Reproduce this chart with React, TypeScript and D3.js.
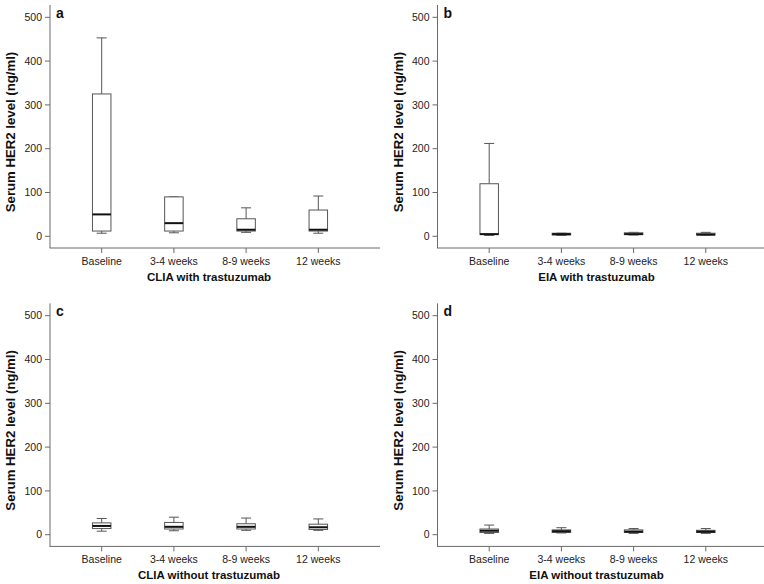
import React from "react";
import * as d3 from "d3";

const categories = ["Baseline", "3-4 weeks", "8-9 weeks", "12 weeks"];
const yTicks = [0, 100, 200, 300, 400, 500];

// five-number summaries per category: [min, q1, median, q3, max]
const cliaWith = [
  [7, 12, 50, 325, 453],
  [8, 12, 30, 90, 90],
  [9, 12, 15, 40, 65],
  [7, 12, 15, 60, 92],
];
const eiaWith = [
  [2, 4, 5, 120, 212],
  [2, 3, 5, 7, 7],
  [3, 4, 5, 8, 9],
  [3, 3, 4, 7, 9],
];
const cliaWithout = [
  [8, 14, 20, 27, 37],
  [9, 13, 18, 28, 40],
  [10, 13, 18, 25, 38],
  [10, 12, 17, 24, 36],
];
const eiaWithout = [
  [3, 5, 9, 13, 22],
  [4, 5, 8, 11, 16],
  [3, 5, 7, 11, 14],
  [3, 5, 7, 10, 14],
];

const panelLetters = ["a", "b", "c", "d"];
const panelTitles = [
  "CLIA with trastuzumab",
  "EIA with trastuzumab",
  "CLIA without trastuzumab",
  "EIA without trastuzumab",
];
const panelData = [cliaWith, eiaWith, cliaWithout, eiaWithout];
const yTitle = "Serum HER2 level (ng/ml)";

const FONT = "'Liberation Sans', Arial, sans-serif";
const AXIS = "#6a6a6a";
const BOX = "#555";

function Panel({ idx }: { idx: number }) {
  const ox = (idx % 2) * 387.5;
  const oy = Math.floor(idx / 2) * 298.4;
  const axisX = 50;
  const xAxisY = 248;
  const y = d3.scaleLinear().domain([0, 500]).range([236.3, 17.3]);
  const x = d3.scalePoint<string>().domain(categories).range([101.7, 318.3]);
  const data = panelData[idx];
  const bw = 18.5;
  const cw = 10;
  return (
    <g transform={`translate(${ox},${oy})`}>
      {/* axes */}
      <line x1={axisX} x2={axisX} y1={5} y2={xAxisY} stroke={AXIS} strokeWidth={1} />
      <line x1={axisX - 0.5} x2={380} y1={xAxisY} y2={xAxisY} stroke={AXIS} strokeWidth={1} />
      {yTicks.map((t) => (
        <g key={t}>
          <line x1={axisX - 5} x2={axisX} y1={y(t)} y2={y(t)} stroke={AXIS} />
          <text
            x={axisX - 8}
            y={y(t)}
            dy="0.36em"
            textAnchor="end"
            fontSize={10.5}
            fontFamily={FONT}
            fill="#222"
          >
            {t}
          </text>
        </g>
      ))}
      {categories.map((c) => (
        <g key={c}>
          <line x1={x(c)} x2={x(c)} y1={xAxisY} y2={xAxisY + 5} stroke={AXIS} />
          <text
            x={x(c)}
            y={265}
            textAnchor="middle"
            fontSize={10.5}
            fontFamily={FONT}
            fill="#222"
          >
            {c}
          </text>
        </g>
      ))}
      <text
        x={209}
        y={281}
        textAnchor="middle"
        fontSize={11.5}
        fontWeight="bold"
        fontFamily={FONT}
        fill="#111"
      >
        {panelTitles[idx]}
      </text>
      <text
        transform={`translate(15,132) rotate(-90)`}
        textAnchor="middle"
        fontSize={13.2}
        fontWeight="bold"
        fontFamily={FONT}
        fill="#111"
      >
        {yTitle}
      </text>
      <text x={56} y={18} fontSize={14} fontWeight="bold" fontFamily={FONT} fill="#111">
        {panelLetters[idx]}
      </text>
      {/* boxes */}
      {categories.map((c, i) => {
        const [mn, q1, md, q3, mx] = data[i];
        const cx = x(c) as number;
        return (
          <g key={c}>
            <line x1={cx} x2={cx} y1={y(q3)} y2={y(mx)} stroke={BOX} />
            <line x1={cx} x2={cx} y1={y(q1)} y2={y(mn)} stroke={BOX} />
            <line x1={cx - cw / 2} x2={cx + cw / 2} y1={y(mx)} y2={y(mx)} stroke={BOX} />
            <line x1={cx - cw / 2} x2={cx + cw / 2} y1={y(mn)} y2={y(mn)} stroke={BOX} />
            <rect
              x={cx - bw / 2}
              y={y(q3)}
              width={bw}
              height={Math.max(0.5, y(q1) - y(q3))}
              fill="white"
              stroke={BOX}
              strokeWidth={1}
            />
            <line
              x1={cx - bw / 2}
              x2={cx + bw / 2}
              y1={y(md)}
              y2={y(md)}
              stroke="#111"
              strokeWidth={2}
            />
          </g>
        );
      })}
    </g>
  );
}

export default function App() {
  return (
    <svg width={764} height={584} style={{ position: "absolute", left: 0, top: 0, background: "white" }}>
      <rect width={764} height={584} fill="white" />
      {[0, 1, 2, 3].map((i) => (
        <Panel key={i} idx={i} />
      ))}
    </svg>
  );
}
